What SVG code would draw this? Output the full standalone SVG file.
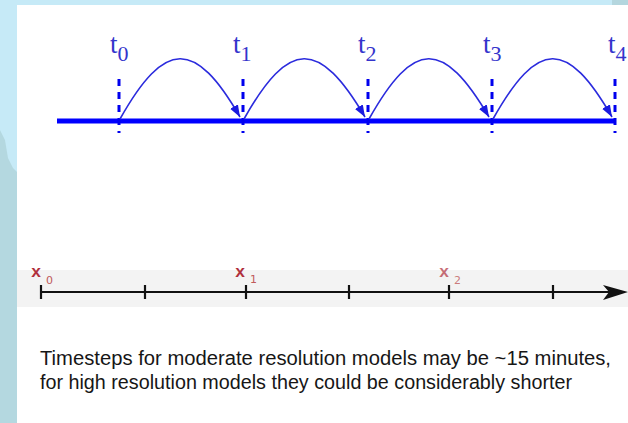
<svg xmlns="http://www.w3.org/2000/svg" width="628" height="423" viewBox="0 0 628 423">
<style>
.tick{stroke:#0000ee;stroke-width:3;stroke-dasharray:7 6;fill:none}
.arc{stroke:#2b2bdd;stroke-width:1.6;fill:none;marker-end:url(#ah)}
.tl{font-family:"Liberation Serif",serif;font-size:27px;fill:#3434cc}
.xt{stroke:#111;stroke-width:2.2}
.xl{font-family:"Liberation Mono",monospace;font-weight:bold;font-size:17px;fill:#b0303c}
.xs{font-family:"DejaVu Sans",sans-serif;font-size:11px;fill:#c05a5a}
.cap{font-family:"Liberation Sans",Arial,sans-serif;font-size:20px;fill:#161616}
</style>
<defs>
<marker id="ah" markerUnits="userSpaceOnUse" markerWidth="13" markerHeight="10" refX="12" refY="4.5" orient="auto">
<path d="M0,0 L12,4.5 L0,9 z" fill="#1a1ae0"/>
</marker>
</defs>
<g id="background">
<rect x="0" y="0" width="628" height="423" fill="#c6eaf7"/>
<path d="M0,130 L5,140 L8,158 L13,168 L17,172 L17,423 L0,423 z" fill="#b4d8e0"/>
<path d="M612,0 L628,0 L628,5 L612,5 z" fill="#b4d6de"/>
<rect x="17" y="5" width="611" height="418" fill="#ffffff"/>
<rect x="17" y="270" width="611" height="37" fill="#f3f3f3"/>
</g>
<g id="timeline">
<line x1="57" y1="121" x2="614" y2="121" stroke="#0000ff" stroke-width="5"/>
</g>
<g id="t0"><line class="tick" x1="119" y1="79" x2="119" y2="133"/><text class="tl" x="110" y="53">t<tspan font-size="22" dy="8">0</tspan></text></g>
<g id="t1"><line class="tick" x1="243" y1="79" x2="243" y2="133"/><text class="tl" x="233" y="53">t<tspan font-size="22" dy="8">1</tspan></text></g>
<g id="t2"><line class="tick" x1="368" y1="79" x2="368" y2="133"/><text class="tl" x="358" y="53">t<tspan font-size="22" dy="8">2</tspan></text></g>
<g id="t3"><line class="tick" x1="492" y1="79" x2="492" y2="133"/><text class="tl" x="483" y="53">t<tspan font-size="22" dy="8">3</tspan></text></g>
<g id="t4"><line class="tick" x1="615" y1="79" x2="615" y2="133"/><text class="tl" x="608" y="53">t<tspan font-size="22" dy="8">4</tspan></text></g>
<g id="connectors">
<path class="arc" d="M120,119 C165,39 195,39 240,117"/>
<path class="arc" d="M244,119 C289,39 319,39 365,117"/>
<path class="arc" d="M369,119 C414,39 443,39 489,117"/>
<path class="arc" d="M493,119 C538,39 567,39 612,117"/>
</g>
<g id="xaxis">
<line x1="41" y1="292" x2="612" y2="292" stroke="#111" stroke-width="1.8"/>
<path d="M603,285 L628,292 L603,300 L609,292 z" fill="#111"/>
<line class="xt" x1="41" y1="285" x2="41" y2="299"/>
<line class="xt" x1="145" y1="285" x2="145" y2="299"/>
<line class="xt" x1="246" y1="285" x2="246" y2="299"/>
<line class="xt" x1="349" y1="285" x2="349" y2="299"/>
<line class="xt" x1="449" y1="285" x2="449" y2="299"/>
<line class="xt" x1="553" y1="285" x2="553" y2="299"/>
</g>
<g id="x0"><text class="xl" x="31" y="277">x</text><text class="xs" x="46" y="284">0</text></g>
<g id="x1"><text class="xl" x="235" y="277">x</text><text class="xs" x="250" y="283">1</text></g>
<g id="x2"><text class="xl" x="439" y="277" fill-opacity="0.7">x</text><text class="xs" x="454" y="284" fill-opacity="0.8">2</text></g>
<g id="caption">
<text class="cap" x="40" y="365" textLength="571" lengthAdjust="spacingAndGlyphs">Timesteps for moderate resolution models may be ~15 minutes,</text>
<text class="cap" x="40" y="389" textLength="532" lengthAdjust="spacingAndGlyphs">for high resolution models they could be considerably shorter</text>
</g>
</svg>
